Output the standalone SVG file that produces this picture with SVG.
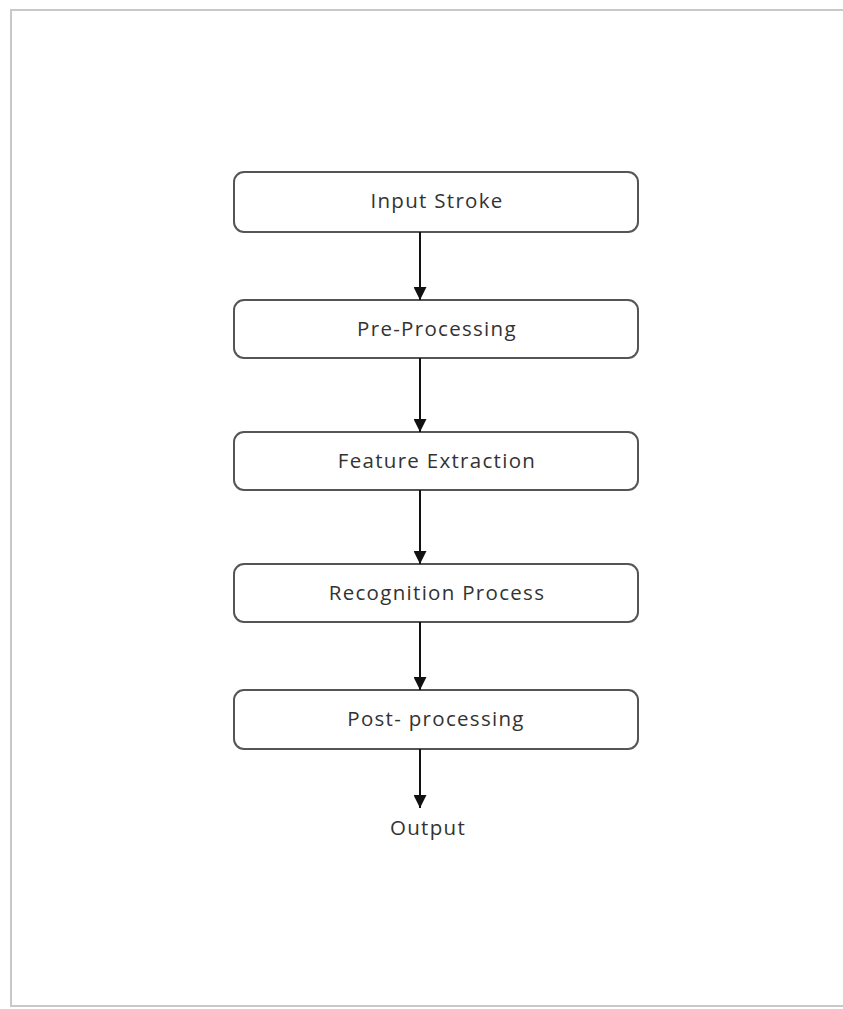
<svg xmlns="http://www.w3.org/2000/svg" width="843" height="1009" viewBox="0 0 843 1009">
<style>
.frame{fill:none;stroke:#c8c8c8;stroke-width:2}
.box{fill:#fff;stroke:#555;stroke-width:2}
.lbl{font-family:"Open Sans",sans-serif;font-size:20.5px;letter-spacing:1.3px;fill:#333;text-anchor:middle;dominant-baseline:central}
.conn{stroke:#111;stroke-width:2;fill:none;marker-end:url(#ah)}
</style>
<defs>
<marker id="ah" viewBox="0 0 10 10" refX="10" refY="5" markerWidth="6.5" markerHeight="6.5" markerUnits="strokeWidth" orient="auto">
<path d="M0,0 L10,5 L0,10 z" fill="#111"/>
</marker>
</defs>
<rect width="843" height="1009" fill="#fff"/>
<path class="frame" d="M843,10 H11 V1006 H843"/>
<g id="n1"><rect class="box" x="234" y="172" width="404" height="60" rx="10"/><text class="lbl" x="437" y="200">Input Stroke</text></g>
<g id="n2"><rect class="box" x="234" y="300" width="404" height="58" rx="10"/><text class="lbl" x="437" y="328">Pre-Processing</text></g>
<g id="n3"><rect class="box" x="234" y="432" width="404" height="58" rx="10"/><text class="lbl" x="437" y="460">Feature Extraction</text></g>
<g id="n4"><rect class="box" x="234" y="564" width="404" height="58" rx="10"/><text class="lbl" x="437" y="592">Recognition Process</text></g>
<g id="n5"><rect class="box" x="234" y="690" width="404" height="59" rx="10"/><text class="lbl" x="436" y="718">Post- processing</text></g>
<g id="n6"><text class="lbl" x="428" y="827">Output</text></g>
<g id="connectors">
<line class="conn" x1="420" y1="232" x2="420" y2="300"/>
<line class="conn" x1="420" y1="358" x2="420" y2="432"/>
<line class="conn" x1="420" y1="490" x2="420" y2="564"/>
<line class="conn" x1="420" y1="622" x2="420" y2="690"/>
<line class="conn" x1="420" y1="749" x2="420" y2="808"/>
</g>
</svg>
